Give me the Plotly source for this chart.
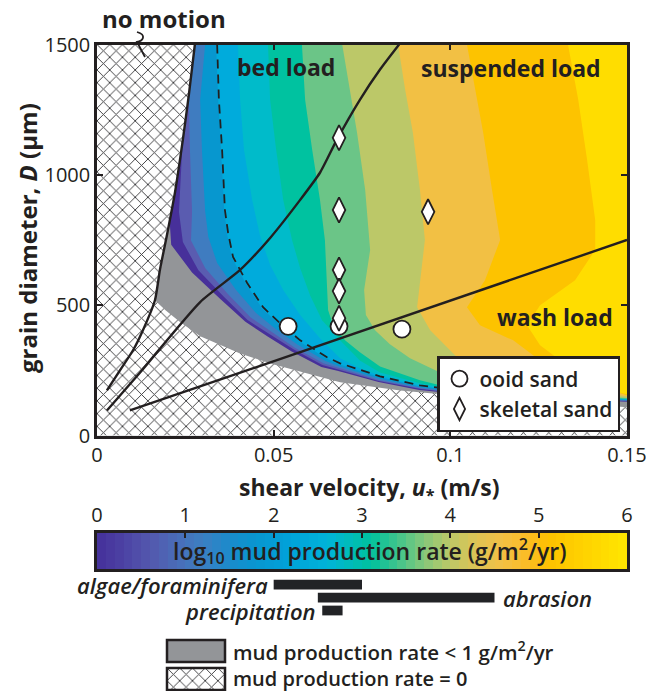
import numpy as np
import plotly.graph_objects as go

W, H = 646, 691
INK = '#231f20'
FONT = 'Open Sans'

# ---------------- data ----------------
U_MAX, D_MAX = 0.15, 1500
x_tickvals = [0, 0.05, 0.1, 0.15]
x_ticktext = ['0', '0.05', '0.1', '0.15']
y_tickvals = [0, 500, 1000, 1500]
cb_tickvals = [0, 1, 2, 3, 4, 5, 6]

# threshold of motion curve (u*, D)
nomotion_u = [0.0277, 0.0260, 0.0243, 0.0221, 0.0198, 0.0178, 0.0164, 0.0130, 0.0102, 0.0065, 0.0028]
nomotion_D = [1500, 1308, 1135, 935, 769, 635, 519, 404, 327, 250, 173]
# bed load / suspended load threshold
bedsusp_u = [0.0028, 0.0122, 0.0292, 0.0405, 0.0490, 0.0575, 0.0631, 0.0679, 0.0744, 0.0801, 0.0855]
bedsusp_D = [96, 242, 512, 635, 758, 904, 1008, 1135, 1288, 1404, 1500]
# suspended load / wash load threshold
suspwash_u = [0.0093, 0.15]
suspwash_D = [96, 750]
# lower edge of the producing region (mud production = 0 below)
zero_edge_u = [0.0164, 0.0193, 0.0235, 0.0292, 0.0405, 0.0498, 0.0575, 0.0688, 0.0858, 0.0943, 0.1197, 0.15]
zero_edge_D = [519, 481, 435, 381, 315, 273, 246, 204, 173, 162, 139, 108]

# filled contour boundaries of log10 mud production rate (lowest level first)
contour_levels = [1.0, 1.25, 1.5, 2.0, 2.25, 2.5, 3.0, 3.5, 4.0, 4.5, 5.0, 5.5]
c1_u = [0.0226, 0.0221, 0.0212, 0.0204, 0.0210, 0.0269, 0.0349, 0.0420, 0.0484, 0.0551, 0.0635, 0.0680, 0.0797, 0.0912, 0.0984, 0.1197, 0.15]
c1_D = [1500, 1288, 1096, 855, 732, 625, 524, 436, 379, 322, 263, 248, 205, 175, 165, 148, 129]
c2_u = [0.0243, 0.0243, 0.0241, 0.0232, 0.0243, 0.0287, 0.0359, 0.0426, 0.0490, 0.0556, 0.0638, 0.0682, 0.0797, 0.0913, 0.0984, 0.1197, 0.15]
c2_D = [1500, 1288, 1096, 857, 742, 634, 532, 443, 387, 331, 270, 253, 209, 179, 167, 150, 131]
c3_u = [0.0260, 0.0260, 0.0263, 0.0269, 0.0266, 0.0306, 0.0371, 0.0435, 0.0496, 0.0560, 0.0641, 0.0683, 0.0798, 0.0913, 0.0984, 0.1197, 0.15]
c3_D = [1500, 1288, 1096, 858, 748, 643, 542, 453, 396, 337, 277, 259, 212, 181, 169, 152, 133]
c4_u = [0.0306, 0.0292, 0.0297, 0.0306, 0.0315, 0.0340, 0.0393, 0.0450, 0.0505, 0.0566, 0.0645, 0.0685, 0.0799, 0.0913, 0.0985, 0.1197, 0.15]
c4_D = [1500, 1288, 1096, 862, 762, 662, 559, 470, 410, 350, 287, 266, 218, 185, 173, 154, 135]
c5_u = [0.0337, 0.0343, 0.0351, 0.0360, 0.0368, 0.0382, 0.0422, 0.0467, 0.0515, 0.0572, 0.0648, 0.0685, 0.0801, 0.0914, 0.0985, 0.1197, 0.15]
c5_D = [1500, 1288, 1096, 865, 773, 681, 581, 488, 427, 362, 296, 273, 223, 188, 177, 158, 137]
c6_u = [0.0399, 0.0405, 0.0416, 0.0439, 0.0461, 0.0490, 0.0527, 0.0575, 0.0631, 0.0688, 0.0744, 0.0801, 0.0914, 0.0985, 0.1197, 0.15]
c6_D = [1500, 1288, 1096, 904, 769, 654, 558, 462, 373, 296, 258, 229, 192, 179, 160, 138]
c7_u = [0.0484, 0.0490, 0.0507, 0.0527, 0.0552, 0.0575, 0.0603, 0.0637, 0.0688, 0.0744, 0.0801, 0.0914, 0.0985, 0.1197, 0.15]
c7_D = [1500, 1288, 1096, 904, 750, 642, 538, 442, 365, 288, 242, 200, 183, 163, 140]
c8_u = [0.0580, 0.0589, 0.0609, 0.0631, 0.0645, 0.0651, 0.0654, 0.0668, 0.0702, 0.0744, 0.0801, 0.0914, 0.0985, 0.1197, 0.15]
c8_D = [1500, 1288, 1096, 904, 750, 596, 481, 423, 365, 319, 265, 212, 188, 167, 141]
c9_u = [0.0694, 0.0716, 0.0736, 0.0759, 0.0773, 0.0756, 0.0761, 0.0787, 0.0829, 0.0886, 0.0971, 0.1197, 0.15]
c9_D = [1500, 1327, 1161, 942, 712, 558, 462, 404, 350, 296, 242, 177, 144]
c10_u = [0.0852, 0.0872, 0.0894, 0.0914, 0.0928, 0.0914, 0.0906, 0.0943, 0.0985, 0.1028, 0.1197, 0.15]
c10_D = [1500, 1327, 1161, 942, 750, 596, 492, 404, 346, 288, 212, 150]
c11_u = [0.1047, 0.1070, 0.1093, 0.1118, 0.1141, 0.1098, 0.1047, 0.1084, 0.1178, 0.1254, 0.1367, 0.15]
c11_D = [1500, 1327, 1161, 942, 750, 596, 492, 423, 365, 288, 212, 154]
c12_u = [0.1333, 0.1362, 0.1387, 0.1410, 0.1410, 0.1353, 0.1254, 0.1217, 0.1254, 0.1367, 0.1452, 0.15]
c12_D = [1500, 1288, 1058, 827, 712, 596, 500, 423, 346, 231, 173, 158]

# dashed contour
dash_u = [0.0340, 0.0345, 0.0354, 0.0362, 0.0371, 0.0385, 0.0425, 0.0470, 0.0518, 0.0575, 0.0651, 0.0688, 0.0801, 0.0914, 0.0985]
dash_D = [1500, 1288, 1096, 865, 777, 685, 585, 492, 431, 365, 300, 277, 227, 192, 181]

# samples
ooid_u = [0.0541, 0.0685, 0.0863]
ooid_D = [419, 419, 408]
skel_u = [0.0685, 0.0685, 0.0685, 0.0685, 0.0685, 0.0937]
skel_D = [1142, 865, 635, 554, 450, 858]

# mud production ranges (log10 g/m2/yr)
src_names = ['algae/foraminifera', 'abrasion', 'precipitation']
src_start = [2.0, 2.5, 2.55]
src_end = [3.0, 4.5, 2.78]
src_label_side = ['left', 'right', 'left']

# colour key
cb_vals = [0, 0.3, 0.6, 0.9, 1.2, 1.5, 1.8, 2.2, 2.6, 2.9, 3.1, 3.4, 3.7, 4.0, 4.3, 4.6, 4.9, 5.1, 5.5, 6.0]
cb_cols = ['#45309a', '#4c42a4', '#5357ad', '#4a6cb8', '#3c7fc2', '#1a8bcb', '#0896d0', '#00a3da', '#00b3d9',
           '#00bdb6', '#00c19e', '#3fc48c', '#86c77a', '#bdc867', '#dfc354', '#f3bf44', '#fbbc22', '#fdc100',
           '#ffd200', '#ffe600']
band_colors = ['#939598', '#47309a', '#5a5cb0', '#3f7cc0', '#0797cf', '#00abdc', '#00bbca', '#00c2a0',
               '#6bc587', '#bcc868', '#f2c044', '#fdc300', '#ffdd00']

# ---------------- figure ----------------
def px(x):
    return x / W


def py(y):
    return 1 - y / H


X_DOM = [px(97), px(627)]
Y_DOM = [py(435.5), py(44.5)]
HATCH = dict(shape='x', size=9, solidity=0.2, bgcolor='white', fgcolor='#3c3c3e', fillmode='replace')

fig = go.Figure()

# region where production < 1 (base layer)
fig.add_trace(go.Scatter(x=[0, U_MAX, U_MAX, 0, 0], y=[0, 0, D_MAX, D_MAX, 0], fill='toself',
                         fillcolor=band_colors[0], mode='lines', line=dict(width=0),
                         hoverinfo='skip', showlegend=False))
contours = [(c1_u, c1_D), (c2_u, c2_D), (c3_u, c3_D), (c4_u, c4_D), (c5_u, c5_D), (c6_u, c6_D),
            (c7_u, c7_D), (c8_u, c8_D), (c9_u, c9_D), (c10_u, c10_D), (c11_u, c11_D), (c12_u, c12_D)]
for k, (cu, cd) in enumerate(contours):
    fig.add_trace(go.Scatter(x=list(cu) + [U_MAX], y=list(cd) + [D_MAX], fill='toself',
                             fillcolor=band_colors[k + 1], mode='lines', line=dict(width=0),
                             hoverinfo='skip', showlegend=False))

# zero-production (hatched) region
hx = [0] + nomotion_u[:7] + zero_edge_u + [U_MAX, 0]
hy = [D_MAX] + nomotion_D[:7] + zero_edge_D + [0, 0]
fig.add_trace(go.Scatter(x=hx, y=hy, fill='toself', fillcolor='white', mode='lines', line=dict(width=0),
                         fillpattern=HATCH, hoverinfo='skip', showlegend=False))

# dashed contour + threshold lines
fig.add_trace(go.Scatter(x=dash_u, y=dash_D, mode='lines', line=dict(color=INK, width=1.8, dash='9px,6px'),
                         hoverinfo='skip', showlegend=False))
for lu, ld in [(nomotion_u, nomotion_D), (bedsusp_u, bedsusp_D), (suspwash_u, suspwash_D)]:
    fig.add_trace(go.Scatter(x=lu, y=ld, mode='lines', line=dict(color=INK, width=2.4, shape='spline', smoothing=0.6),
                             hoverinfo='skip', showlegend=False))

# samples
fig.add_trace(go.Scatter(x=ooid_u, y=ooid_D, mode='markers', name='ooid sand',
                         marker=dict(symbol='circle', size=17, color='white', line=dict(color=INK, width=1.8))))
fig.add_trace(go.Scatter(x=skel_u, y=skel_D, mode='markers', name='skeletal sand',
                         marker=dict(symbol='diamond-tall', size=18, color='white', line=dict(color=INK, width=1.8))))

# colour key (heatmap)
cb_x = np.arange(0.05, 6.0, 0.1)
cscale = [[v / 6.0, c] for v, c in zip(cb_vals, cb_cols)]
fig.add_trace(go.Heatmap(x=cb_x, y=[0.5], z=[cb_x], colorscale=cscale, zmin=0, zmax=6, showscale=False,
                         xaxis='x2', yaxis='y2', hoverinfo='skip'))

# production ranges
src_row = list(range(len(src_names)))
fig.add_trace(go.Bar(y=src_row, x=[e - s for s, e in zip(src_start, src_end)], base=src_start,
                     orientation='h', width=0.75, marker=dict(color='#222326', line=dict(width=0)),
                     xaxis='x5', yaxis='y5', hoverinfo='skip', showlegend=False))

# hatch swatch for bottom legend
fig.add_trace(go.Scatter(x=[0, 1, 1, 0, 0], y=[0, 0, 1, 1, 0], fill='toself', fillcolor='white', mode='lines',
                         line=dict(width=0), xaxis='x4', yaxis='y4', fillpattern=HATCH,
                         hoverinfo='skip', showlegend=False))

axis_common = dict(showgrid=False, zeroline=False, showline=True, linewidth=2.5, linecolor=INK,
                   ticks='inside', ticklen=6, tickwidth=2, tickcolor=INK, automargin=False,
                   ticklabeloverflow='allow', tickfont=dict(family=FONT, size=20, color=INK))
hidden = dict(visible=False, automargin=False, showgrid=False, zeroline=False)

fig.update_layout(
    width=W, height=H, margin=dict(l=0, r=0, t=0, b=0, autoexpand=False),
    paper_bgcolor='white', plot_bgcolor='white',
    xaxis=dict(domain=X_DOM, range=[0, U_MAX], tickvals=x_tickvals, ticktext=x_ticktext,
               mirror='allticks', anchor='y', **axis_common),
    yaxis=dict(domain=Y_DOM, range=[0, D_MAX], tickvals=y_tickvals, mirror='allticks', anchor='x',
               **axis_common),
    xaxis2=dict(domain=X_DOM, range=[0, 6], tickvals=cb_tickvals, side='top', mirror=True, anchor='y2',
                **{**axis_common, 'ticklen': 5}),
    yaxis2=dict(domain=[py(569), py(533)], range=[0, 1], showticklabels=False, ticks='', showline=True,
                mirror=True, linewidth=2.5, linecolor=INK, showgrid=False, zeroline=False, anchor='x2',
                automargin=False),
    xaxis5=dict(domain=X_DOM, range=[0, 6], anchor='y5', **hidden),
    yaxis5=dict(domain=[py(617), py(578)], range=[2.5, -0.5], anchor='x5', **hidden),
    xaxis4=dict(domain=[px(167), px(225)], range=[0, 1], anchor='y4', **hidden),
    yaxis4=dict(domain=[py(690), py(668)], range=[0, 1], anchor='x4', **hidden),
    legend=dict(x=px(437), y=py(356), xanchor='left', yanchor='top', bgcolor='white', bordercolor=INK,
                borderwidth=2.5, font=dict(family=FONT, size=21, color=INK, weight=600),
                tracegroupgap=0, itemwidth=30),
)

ann = []


def text(x, y, s, size=21, weight=700, xanchor='center', angle=0, italic=False, xref='paper', yref='paper',
         xshift=0):
    ann.append(dict(x=x, y=y, xref=xref, yref=yref, text=s, showarrow=False, xanchor=xanchor, yanchor='middle',
                    textangle=angle, xshift=xshift,
                    font=dict(family=FONT, size=size, color=INK, weight=weight,
                              style='italic' if italic else 'normal')))


text(px(164), py(19), 'no motion', size=24)
text(px(286), py(67), 'bed load', size=23)
text(px(511), py(68), 'suspended load', size=23)
text(px(555), py(317), 'wash load', size=23)
text(px(27), py(238), 'grain diameter, <i>D</i> (μm)', size=24, angle=-90)
text(px(370), py(488), 'shear velocity, <i>u</i><sub>*</sub> (m/s)', size=23)
text(px(370), py(551), 'log<sub>10</sub> mud production rate (g/m<sup>2</sup>/yr)', size=23, weight=600)
for name, row, s, e, side in zip(src_names, src_row, src_start, src_end, src_label_side):
    if side == 'left':
        text(s, row, name, size=22, weight=600, xanchor='right', italic=True, xref='x5', yref='y5', xshift=-4)
    else:
        text(e, row, name, size=22, weight=600, xanchor='left', italic=True, xref='x5', yref='y5', xshift=6)
text(px(231), py(651), 'mud production rate &lt; 1 g/m<sup>2</sup>/yr', size=20.5, weight=600, xanchor='left')
text(px(231), py(678), 'mud production rate = 0', size=20, weight=600, xanchor='left')

shapes = [
    dict(type='rect', xref='paper', yref='paper', x0=px(167), x1=px(225), y0=py(662), y1=py(640),
         fillcolor='#939598', line=dict(color=INK, width=2.5)),
    dict(type='rect', xref='paper', yref='paper', x0=px(167), x1=px(225), y0=py(690), y1=py(668),
         line=dict(color=INK, width=2.5)),
    dict(type='path', xref='paper', yref='paper',
         path='M{},{} C{},{} {},{} {},{} L{},{}'.format(px(137), py(32), px(147), py(35), px(143), py(41),
                                                        px(137), py(42), px(145), py(57)),
         line=dict(color=INK, width=1.8)),
]
fig.update_layout(annotations=ann, shapes=shapes)

fig.write_html('out.html')
